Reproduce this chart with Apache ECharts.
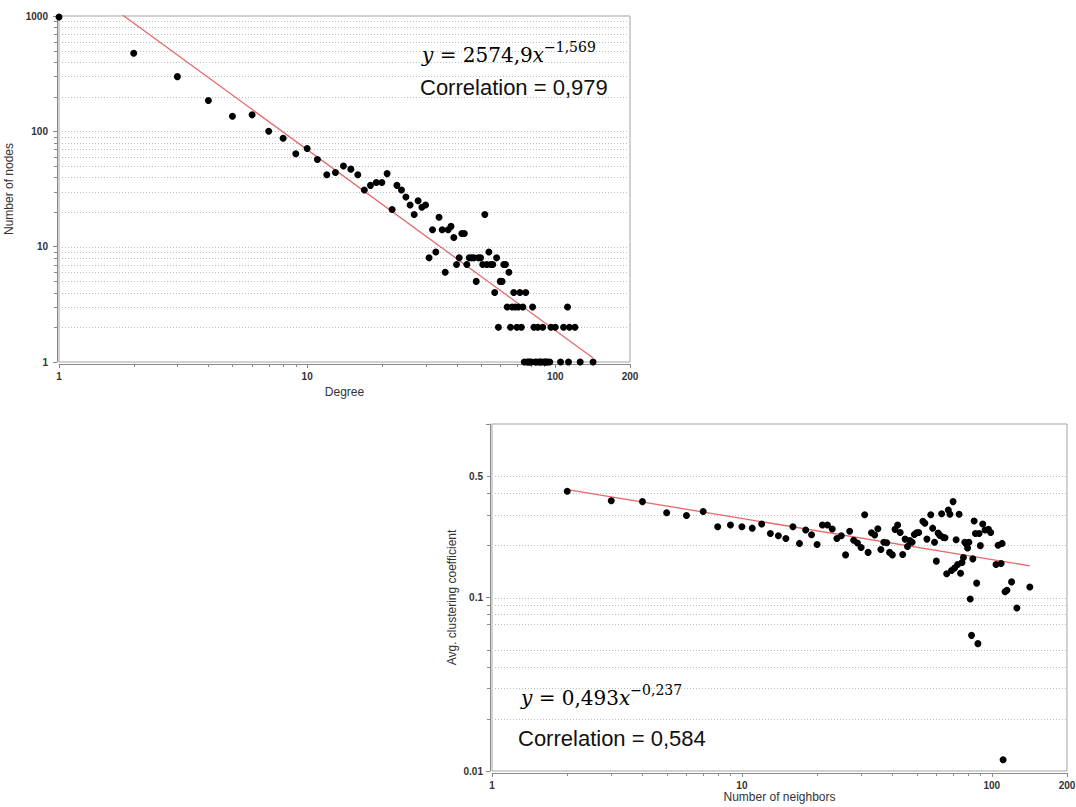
<!DOCTYPE html>
<html>
<head>
<meta charset="utf-8">
<script src="https://cdn.jsdelivr.net/npm/echarts@6/dist/echarts.min.js"></script>
<style>
  html, body { margin: 0; padding: 0; background: #ffffff; }
  #chart { width: 1076px; height: 807px; }
</style>
</head>
<body>
<div id="chart"></div>
<script>
// Degree distribution: [degree, number of nodes]
const degreeDistribution = [
  [1, 980], [2, 476], [3, 298], [4, 185], [5, 135], [6, 139], [7, 100], [8, 87], [9, 64], [10, 71],
  [11, 57], [12, 42], [13, 44], [14, 50], [15, 47], [16, 42], [17, 31], [18, 34], [19, 36], [20, 36],
  [21, 43], [22, 21], [23, 34], [24, 31], [25, 27], [26, 23], [27, 19], [28, 25], [29, 22], [30, 23],
  [31, 8], [32, 14], [33, 9], [34, 18], [35, 14], [36, 6], [37, 14], [38, 15], [39, 12], [40, 7],
  [41, 8], [42, 13], [43, 13], [44, 7], [45, 8], [46, 8], [47, 8], [48, 5], [49, 8], [50, 8],
  [51, 7], [52, 19], [53, 7], [54, 9], [55, 7], [56, 7], [57, 4], [58, 8], [59, 2], [60, 5],
  [61, 5], [62, 7], [63, 7], [64, 3], [65, 6], [66, 2], [67, 3], [68, 4], [69, 3], [70, 2],
  [71, 3], [72, 4], [73, 2], [74, 3], [75, 1], [76, 4], [77, 1], [78, 1], [79, 1], [80, 1],
  [81, 3], [82, 2], [83, 1], [84, 1], [85, 2], [86, 1], [87, 1], [88, 1], [89, 2], [90, 1],
  [91, 1], [92, 1], [93, 1], [95, 1], [96, 2], [100, 2], [105, 1], [108, 2], [112, 3], [113, 1],
  [114, 2], [120, 2], [126, 1], [142, 1]
];

// Clustering: [number of neighbors, avg. clustering coefficient]
const clusteringByNeighbors = [
  [2, 0.410], [3, 0.361], [4, 0.357], [5, 0.308], [6, 0.297], [7, 0.313], [8, 0.256], [9, 0.262],
  [10, 0.256], [11, 0.251], [12, 0.265], [13, 0.234], [14, 0.227], [15, 0.219], [16, 0.256],
  [17, 0.205], [18, 0.245], [19, 0.230], [20, 0.202], [21, 0.262], [22, 0.262], [23, 0.248],
  [24, 0.219], [25, 0.227], [26, 0.176], [27, 0.241], [28, 0.214], [29, 0.206], [30, 0.194],
  [31, 0.300], [32, 0.182], [33, 0.236], [34, 0.229], [35, 0.249], [36, 0.189], [37, 0.208],
  [38, 0.207], [39, 0.182], [40, 0.176], [41, 0.247], [42, 0.262], [43, 0.237], [44, 0.177],
  [45, 0.217], [46, 0.197], [47, 0.213], [48, 0.208], [49, 0.231], [50, 0.236], [51, 0.237],
  [53, 0.275], [54, 0.268], [55, 0.217], [57, 0.300], [58, 0.251], [59, 0.208], [60, 0.162],
  [61, 0.235], [62, 0.228], [63, 0.304], [64, 0.222], [65, 0.221], [66, 0.137], [67, 0.319],
  [68, 0.302], [69, 0.143], [70, 0.357], [71, 0.148], [72, 0.215], [73, 0.155], [74, 0.302],
  [75, 0.138], [76, 0.159], [77, 0.170], [78, 0.208], [79, 0.204], [80, 0.193], [81, 0.208],
  [82, 0.098], [83, 0.0605], [84, 0.167], [85, 0.276], [86, 0.234], [87, 0.121], [88, 0.0542],
  [89, 0.234], [90, 0.199], [92, 0.265], [94, 0.245], [97, 0.247], [99, 0.237], [104, 0.155],
  [106, 0.200], [109, 0.157], [110, 0.205], [111, 0.0116], [113, 0.108], [115, 0.110],
  [120, 0.123], [126, 0.087], [142, 0.115]
];

// Power-law fits y = a * x^b : [a, b]
const degreeFit = [2574.9, -1.569];
const clusteringFit = [0.493, -0.237];
// x-range covered by each fitted line
const degreeFitRange = [1, 142];
const clusteringFitRange = [2, 142];

// Axis ranges
const degreeRange = [1, 200];
const nodeCountRange = [1, 1000];
const neighborRange = [1, 200];
const clusteringRange = [0.01, 1];

// Dotted horizontal reference lines
const nodeCountGridValues = [2, 3, 4, 5, 6, 7, 8, 9, 10, 20, 30, 40, 50, 60, 70, 80, 90,
  100, 200, 300, 400, 500, 600, 700, 800, 900];
const clusteringGridValues = [0.02, 0.03, 0.04, 0.05, 0.07, 0.08, 0.09, 0.1, 0.2, 0.3, 0.4, 0.5];

// Minor tick positions
const minorTicksX = [2, 3, 4, 5, 6, 7, 8, 9, 20, 30, 40, 50, 60, 70, 80, 90];
const nodeCountMinorTicks = [2, 3, 4, 5, 6, 7, 8, 9, 20, 30, 40, 50, 60, 70, 80, 90,
  200, 300, 400, 500, 600, 700, 800, 900];
const clusteringMinorTicks = [0.02, 0.03, 0.04, 0.05, 0.07, 0.08, 0.09, 0.2, 0.3, 0.4, 0.5];
// Labelled values on the clustering axis
const clusteringTickLabels = [0.01, 0.1, 0.5];

const AXIS_GRAY = '#8a8a8a';
const LABEL_FONT = '"Liberation Sans", Arial, sans-serif';

function fmt(v) { return String(Number(Number(v).toPrecision(6))); }

function fitLine(fit, range) {
  return range.map(x => [x, fit[0] * Math.pow(x, fit[1])]);
}

function gridLineItem(params, api) {
  const p = api.coord([api.value(0), api.value(1)]);
  const cs = params.coordSys;
  const y = Math.round(p[1]) + 0.5;
  return {
    type: 'line', silent: true,
    shape: { x1: cs.x + 3, y1: y, x2: cs.x + cs.width - 1, y2: y },
    style: { stroke: '#bdbdbd', lineWidth: 1, lineDash: [1, 2] }
  };
}

function xTickItem(params, api) {
  const p = api.coord([api.value(0), api.value(1)]);
  const cs = params.coordSys;
  const x = Math.round(p[0]) + 0.5;
  const y0 = cs.y + cs.height + 2;
  return {
    type: 'line', silent: true,
    shape: { x1: x, y1: y0, x2: x, y2: y0 + 3 },
    style: { stroke: AXIS_GRAY, lineWidth: 1 }
  };
}

function yTickItem(params, api) {
  const p = api.coord([api.value(0), api.value(1)]);
  const cs = params.coordSys;
  const y = Math.round(p[1]) + 0.5;
  const x0 = cs.x - 2;
  return {
    type: 'line', silent: true,
    shape: { x1: x0, y1: y, x2: x0 - 3, y2: y },
    style: { stroke: AXIS_GRAY, lineWidth: 1 }
  };
}

function yLabelItem(params, api) {
  const p = api.coord([api.value(0), api.value(1)]);
  const cs = params.coordSys;
  return {
    type: 'text', silent: true,
    x: cs.x - 9, y: p[1],
    style: {
      text: fmt(api.value(1)), textAlign: 'right', textVerticalAlign: 'middle',
      fill: '#333', font: 'bold 10px ' + LABEL_FONT
    }
  };
}

function makeXAxis(gridIndex, range, name, nameGap) {
  return {
    gridIndex, type: 'log', logBase: 10, min: range[0], max: range[1], offset: 2,
    name, nameLocation: 'middle', nameGap,
    nameTextStyle: { fontFamily: LABEL_FONT, fontSize: 12, color: '#333' },
    axisLine: { onZero: false, lineStyle: { color: AXIS_GRAY, width: 1 } },
    axisTick: { length: 4, lineStyle: { color: AXIS_GRAY } },
    axisLabel: { margin: 7, formatter: fmt, fontFamily: LABEL_FONT, fontSize: 10, fontWeight: 'bold', color: '#333' },
    splitLine: { show: false }
  };
}

function makeYAxis(gridIndex, range, name, nameGap, showLabels) {
  return {
    gridIndex, type: 'log', logBase: 10, min: range[0], max: range[1], offset: 2,
    name, nameLocation: 'middle', nameGap,
    nameTextStyle: { fontFamily: LABEL_FONT, fontSize: 12, color: '#333' },
    axisLine: { onZero: false, lineStyle: { color: AXIS_GRAY, width: 1 } },
    axisTick: { length: 4, lineStyle: { color: AXIS_GRAY } },
    axisLabel: { show: showLabels, margin: 9, formatter: fmt, fontFamily: LABEL_FONT, fontSize: 10, fontWeight: 'bold', color: '#333' },
    splitLine: { show: false }
  };
}

const chart = echarts.init(document.getElementById('chart'), null, { renderer: 'svg' });

const equationRich = {
  n: { fontFamily: '"DejaVu Serif", serif', fontSize: 20, lineHeight: 30, color: '#111' },
  i: { fontFamily: '"DejaVu Serif", serif', fontStyle: 'italic', fontSize: 20, lineHeight: 30, color: '#111' },
  s: { fontFamily: '"DejaVu Serif", serif', fontSize: 14, lineHeight: 18, verticalAlign: 'top', color: '#111' }
};

chart.setOption({
  animation: false,
  backgroundColor: '#ffffff',
  grid: [
    { left: 59, top: 16, width: 571, height: 346, outerBoundsMode: 'none', containLabel: false,
      show: true, borderColor: '#a3a3a3', borderWidth: 1, backgroundColor: '#ffffff' },
    { left: 492, top: 424, width: 575, height: 347, outerBoundsMode: 'none', containLabel: false,
      show: true, borderColor: '#a3a3a3', borderWidth: 1, backgroundColor: '#ffffff' }
  ],
  xAxis: [
    makeXAxis(0, degreeRange, 'Degree', 22),
    makeXAxis(1, neighborRange, 'Number of neighbors', 13)
  ],
  yAxis: [
    makeYAxis(0, nodeCountRange, 'Number of nodes', 36, true),
    makeYAxis(1, clusteringRange, 'Avg. clustering coefficient', 32, false)
  ],
  graphic: [
    {
      type: 'text', left: 422, top: 40, z: 100,
      style: { text: '{i|y}{n| = 2574,9}{i|x}{s|−1,569}', rich: equationRich }
    },
    {
      type: 'text', left: 420, top: 76, z: 100,
      style: { text: 'Correlation = 0,979', fontFamily: LABEL_FONT, fontSize: 22, fill: '#111' }
    },
    {
      type: 'text', left: 521, top: 683, z: 100,
      style: { text: '{i|y}{n| = 0,493}{i|x}{s|−0,237}', rich: equationRich }
    },
    {
      type: 'text', left: 518, top: 727, z: 100,
      style: { text: 'Correlation = 0,584', fontFamily: LABEL_FONT, fontSize: 22, fill: '#111' }
    }
  ],
  series: [
    // degree chart
    {
      type: 'custom', xAxisIndex: 0, yAxisIndex: 0, z: 1, silent: true,
      renderItem: gridLineItem, data: nodeCountGridValues.map(v => [degreeRange[0], v])
    },
    {
      type: 'custom', xAxisIndex: 0, yAxisIndex: 0, z: 1, silent: true,
      renderItem: xTickItem, data: minorTicksX.map(v => [v, nodeCountRange[0]])
    },
    {
      type: 'custom', xAxisIndex: 0, yAxisIndex: 0, z: 1, silent: true,
      renderItem: yTickItem, data: nodeCountMinorTicks.map(v => [degreeRange[0], v])
    },
    {
      type: 'line', xAxisIndex: 0, yAxisIndex: 0, z: 2, silent: true, showSymbol: false,
      lineStyle: { color: '#e46a6a', width: 1.3 },
      data: fitLine(degreeFit, degreeFitRange)
    },
    {
      type: 'scatter', xAxisIndex: 0, yAxisIndex: 0, z: 3, symbol: 'circle', symbolSize: 7,
      itemStyle: { color: '#000000', opacity: 1 }, data: degreeDistribution
    },
    // clustering chart
    {
      type: 'custom', xAxisIndex: 1, yAxisIndex: 1, z: 1, silent: true,
      renderItem: gridLineItem, data: clusteringGridValues.map(v => [neighborRange[0], v])
    },
    {
      type: 'custom', xAxisIndex: 1, yAxisIndex: 1, z: 1, silent: true,
      renderItem: xTickItem, data: minorTicksX.map(v => [v, clusteringRange[0]])
    },
    {
      type: 'custom', xAxisIndex: 1, yAxisIndex: 1, z: 1, silent: true,
      renderItem: yTickItem, data: clusteringMinorTicks.map(v => [neighborRange[0], v])
    },
    {
      type: 'custom', xAxisIndex: 1, yAxisIndex: 1, z: 1, silent: true,
      renderItem: yLabelItem, data: clusteringTickLabels.map(v => [neighborRange[0], v])
    },
    {
      type: 'line', xAxisIndex: 1, yAxisIndex: 1, z: 2, silent: true, showSymbol: false,
      lineStyle: { color: '#e46a6a', width: 1.3 },
      data: fitLine(clusteringFit, clusteringFitRange)
    },
    {
      type: 'scatter', xAxisIndex: 1, yAxisIndex: 1, z: 3, symbol: 'circle', symbolSize: 7,
      itemStyle: { color: '#000000', opacity: 1 }, data: clusteringByNeighbors
    }
  ]
});
</script>
</body>
</html>
